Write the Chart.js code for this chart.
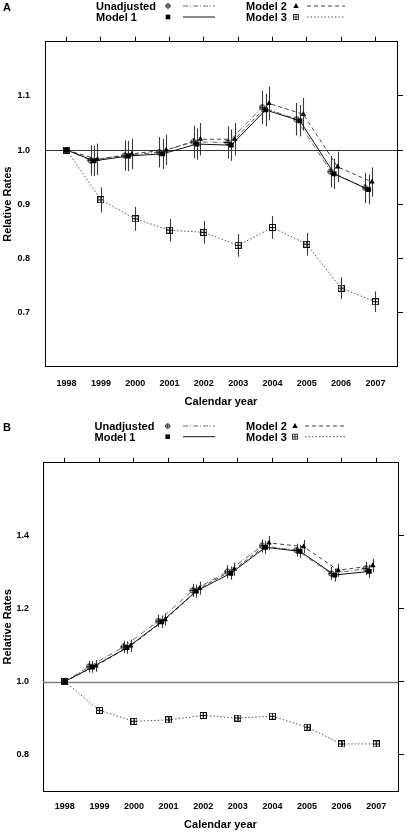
<!DOCTYPE html>
<html>
<head>
<meta charset="utf-8">
<title>Relative Rates by calendar year</title>
<script src="https://cdn.jsdelivr.net/npm/chart.js@4.4.1/dist/chart.umd.min.js"></script>
<style>
  body { margin: 0; background: #fff; font-family: "Liberation Sans", Arial, sans-serif; }
  #page { position: relative; width: 407px; height: 832px; overflow: hidden; background: #fff; }
  .panel { position: absolute; left: 0; width: 407px; }
  svg.legend { position: absolute; left: 0; width: 407px; height: 24px; overflow: visible; }
  svg.legend text { font-family: "Liberation Sans", Arial, sans-serif; font-weight: bold; font-size: 11px; }
</style>
</head>
<body>
<div id="page">
  <div class="panel" style="top:0;height:412px"><canvas id="chartA" width="407" height="412"></canvas></div>
  <div class="panel" style="top:412px;height:420px"><canvas id="chartB" width="407" height="420"></canvas></div>
  <svg class="legend" id="legendA" style="top:0"></svg>
  <svg class="legend" id="legendB" style="top:420px"></svg>
</div>
<script>
// data
const years = [1998, 1999, 2000, 2001, 2002, 2003, 2004, 2005, 2006, 2007];

// panel A
const unadjA  = [1.000, 0.981, 0.990, 0.996, 1.015, 1.014, 1.079, 1.057, 0.960, 0.930];
const model1A = [1.000, 0.980, 0.989, 0.993, 1.011, 1.009, 1.074, 1.054, 0.956, 0.927];
const model2A = [1.000, 0.983, 0.993, 1.000, 1.020, 1.020, 1.086, 1.066, 0.969, 0.941];
const model3A = [1.000, 0.908, 0.873, 0.852, 0.848, 0.824, 0.857, 0.826, 0.745, 0.720];
const ciUnadjA  = [0, 0.028, 0.028, 0.028, 0.030, 0.030, 0.031, 0.030, 0.029, 0.028];
const ciModel1A = [0, 0.028, 0.028, 0.028, 0.029, 0.029, 0.030, 0.029, 0.028, 0.027];
const ciModel2A = [0, 0.029, 0.028, 0.028, 0.030, 0.030, 0.031, 0.030, 0.028, 0.027];
const ciModel3A = [0, 0.023, 0.022, 0.021, 0.021, 0.021, 0.021, 0.021, 0.020, 0.019];
const yTicksA = [0.7, 0.8, 0.9, 1.0, 1.1];

// panel B
const unadjB  = [1.000, 1.041, 1.095, 1.166, 1.250, 1.301, 1.372, 1.360, 1.296, 1.310];
const model1B = [1.000, 1.040, 1.093, 1.164, 1.248, 1.297, 1.368, 1.357, 1.292, 1.302];
const model2B = [1.000, 1.043, 1.098, 1.170, 1.256, 1.308, 1.380, 1.370, 1.305, 1.318];
const model3B = [1.000, 0.921, 0.891, 0.895, 0.907, 0.900, 0.905, 0.875, 0.829, 0.829];
const ciUnadjB  = [0, 0.016, 0.017, 0.017, 0.018, 0.018, 0.018, 0.018, 0.018, 0.018];
const ciModel1B = [0, 0.016, 0.017, 0.017, 0.018, 0.018, 0.018, 0.018, 0.018, 0.018];
const ciModel2B = [0, 0.016, 0.017, 0.017, 0.018, 0.018, 0.019, 0.018, 0.018, 0.018];
const ciModel3B = [0, 0.006, 0.006, 0.006, 0.006, 0.006, 0.006, 0.006, 0.006, 0.006];
const yTicksB = [0.8, 1.0, 1.2, 1.4];

Chart.defaults.font.family = '"Liberation Sans", Arial, sans-serif';
Chart.defaults.font.weight = 'bold';
Chart.defaults.color = '#000';

// small marker images for the symbols chart.js doesn't have
function makeMarker(kind) {
    const c = document.createElement('canvas');
    c.width = 7; c.height = 7;
    const g = c.getContext('2d');
    g.strokeStyle = '#111';
    g.lineWidth = 1;
    if (kind === 'circlePlus') {
        g.beginPath(); g.arc(3.5, 3.5, 2.6, 0, 2 * Math.PI); g.stroke();
    } else {
        g.strokeRect(0.5, 0.5, 6, 6);
    }
    g.beginPath();
    g.moveTo(3.5, 0.5); g.lineTo(3.5, 6.5);
    g.moveTo(0.5, 3.5); g.lineTo(6.5, 3.5);
    g.stroke();
    return c;
}
const circlePlus = makeMarker('circlePlus');
const boxPlus = makeMarker('boxPlus');

// style of each series (shift = dodge along the year axis)
const styles = {
    unadj:  { label: 'Unadjusted', shift: -0.30, color: '#6a6a6a', dash: [5, 2, 1, 2], point: circlePlus, radius: 3, order: 2 },
    model1: { label: 'Model 1',    shift: -0.20, color: '#111',    dash: [],           point: 'rect',     radius: 3.4, order: 0 },
    model2: { label: 'Model 2',    shift: -0.10, color: '#444',    dash: [4, 3],       point: 'triangle', radius: 3.2, order: 1 },
    model3: { label: 'Model 3',    shift: 0,     color: '#555',    dash: [1.5, 2],     point: boxPlus,    radius: 3, order: 3 }
};

function makeDataset(key, values, ci) {
    const s = styles[key];
    return {
        label: s.label,
        data: values.map((v, i) => ({ x: years[i] + (i === 0 ? 0 : s.shift), y: v })),
        err: ci,
        borderColor: s.color,
        borderWidth: 1,
        borderDash: s.dash,
        pointStyle: s.point,
        pointRadius: s.radius,
        pointBackgroundColor: '#000',
        pointBorderColor: '#000',
        pointBorderWidth: 0,
        fill: false,
        tension: 0,
        order: s.order
    };
}

// reference line at 1.0 and the vertical CI bars
const extras = {
    id: 'extras',
    beforeDatasetsDraw(chart, args, opts) {
        const { ctx, chartArea: a, scales: { x, y } } = chart;
        ctx.save();
        const ry = Math.round(y.getPixelForValue(1.0)) + 0.5;
        ctx.strokeStyle = opts.refColor;
        ctx.lineWidth = opts.refWidth;
        ctx.beginPath(); ctx.moveTo(a.left, ry); ctx.lineTo(a.right, ry); ctx.stroke();
        ctx.strokeStyle = '#3a3a3a';
        ctx.lineWidth = 1.1;
        chart.data.datasets.forEach(ds => {
            ds.data.forEach((p, j) => {
                const e = ds.err[j];
                if (!e) return;
                const px = Math.round(x.getPixelForValue(p.x)) + 0.5;
                ctx.beginPath();
                ctx.moveTo(px, y.getPixelForValue(p.y - e));
                ctx.lineTo(px, y.getPixelForValue(p.y + e));
                ctx.stroke();
            });
        });
        ctx.restore();
    }
};

function makePanel(id, datasets, yMin, yMax, yTicks, p) {
    const setYears = s => { s.ticks = years.map(v => ({ value: v })); };
    const setY = s => { s.ticks = yTicks.map(v => ({ value: v })); };
    const border = { display: true, color: '#000', width: 1 };
    new Chart(document.getElementById(id), {
        type: 'line',
        data: { datasets: datasets },
        options: {
            responsive: false,
            animation: false,
            layout: { padding: { top: p.top, right: p.right, bottom: p.bottom, left: 0 } },
            plugins: {
                legend: { display: false },
                tooltip: { enabled: false },
                extras: { refColor: p.refColor, refWidth: p.refWidth }
            },
            scales: {
                x: {
                    type: 'linear', position: 'bottom', min: 1997.37, max: 2007.63,
                    afterBuildTicks: setYears,
                    afterFit: s => { s.height = p.xHeight; },
                    ticks: { callback: v => String(v), font: { size: 9, weight: 'bold' }, padding: p.xPad, maxRotation: 0, autoSkip: false },
                    grid: { display: false, drawTicks: false },
                    border: border,
                    title: { display: true, text: 'Calendar year', font: { size: 11, weight: 'bold' }, padding: 0 }
                },
                xTop: {
                    type: 'linear', position: 'top', min: 1997.37, max: 2007.63,
                    afterBuildTicks: setYears,
                    afterFit: s => { s.height = 5; },
                    ticks: { display: false },
                    grid: { drawOnChartArea: false, drawTicks: true, tickLength: 5, color: '#000' },
                    border: border
                },
                y: {
                    type: 'linear', position: 'left', min: yMin, max: yMax,
                    afterBuildTicks: setY,
                    afterFit: s => { s.width = p.left; },
                    ticks: { callback: v => v.toFixed(1), font: { size: 9, weight: 'bold' }, padding: p.yPad },
                    grid: { display: false, drawTicks: false },
                    border: border,
                    title: { display: true, text: 'Relative Rates', font: { size: 11, weight: 'bold' }, padding: { top: 1, bottom: 0 } }
                },
                yRight: {
                    type: 'linear', position: 'right', min: yMin, max: yMax,
                    afterBuildTicks: setY,
                    afterFit: s => { s.width = 6; },
                    ticks: { display: false },
                    grid: { drawOnChartArea: false, drawTicks: true, tickLength: 6, color: '#000' },
                    border: border
                }
            }
        },
        plugins: [extras]
    });
}

makePanel('chartA', [
    makeDataset('model1', model1A, ciModel1A),
    makeDataset('model2', model2A, ciModel2A),
    makeDataset('unadj', unadjA, ciUnadjA),
    makeDataset('model3', model3A, ciModel3A)
], 0.6, 1.2, yTicksA, { top: 36.7, right: 4, bottom: 3.3, left: 45, xHeight: 42, xPad: 11, yPad: 15, refColor: '#333', refWidth: 1 });

makePanel('chartB', [
    makeDataset('model1', model1B, ciModel1B),
    makeDataset('model2', model2B, ciModel2B),
    makeDataset('unadj', unadjB, ciUnadjB),
    makeDataset('model3', model3B, ciModel3B)
], 0.7, 1.6, yTicksB, { top: 45.7, right: 3, bottom: 0, left: 43, xHeight: 41, xPad: 10, yPad: 14, refColor: '#808080', refWidth: 1.6 });

// legends (panel letter + two columns: text, symbol, line sample)
const NS = 'http://www.w3.org/2000/svg';
function el(parent, tag, attrs, text) {
    const e = document.createElementNS(NS, tag);
    for (const k in attrs) e.setAttribute(k, attrs[k]);
    if (text) e.textContent = text;
    parent.appendChild(e);
    return e;
}
function drawSymbol(g, key, cx, cy) {
    if (key === 'unadj') {
        el(g, 'circle', { cx: cx, cy: cy, r: 2.2, fill: 'none', stroke: '#222', 'stroke-width': 0.9 });
        el(g, 'path', { d: `M${cx - 2.5} ${cy}H${cx + 2.5}M${cx} ${cy - 2.5}V${cy + 2.5}`, stroke: '#222', 'stroke-width': 0.9 });
    } else if (key === 'model1') {
        el(g, 'rect', { x: cx - 2.3, y: cy - 2.3, width: 4.6, height: 4.6, fill: '#000' });
    } else if (key === 'model2') {
        el(g, 'path', { d: `M${cx} ${cy - 3}L${cx + 2.7} ${cy + 2}L${cx - 2.7} ${cy + 2}Z`, fill: '#000' });
    } else {
        el(g, 'rect', { x: cx - 2.5, y: cy - 2.5, width: 5, height: 5, fill: 'none', stroke: '#222', 'stroke-width': 0.9 });
        el(g, 'path', { d: `M${cx - 2.5} ${cy}H${cx + 2.5}M${cx} ${cy - 2.5}V${cy + 2.5}`, stroke: '#222', 'stroke-width': 0.9 });
    }
}
function makeLegend(id, letter, letterY, rows, cols) {
    const svg = document.getElementById(id);
    el(svg, 'text', { x: 3, y: letterY, 'dominant-baseline': 'central', style: 'font-size:11px' }, letter);
    const layout = [['unadj', 0, 0], ['model1', 0, 1], ['model2', 1, 0], ['model3', 1, 1]];
    layout.forEach(([key, c, r]) => {
        const col = cols[c];
        const y = rows[r];
        const s = styles[key];
        el(svg, 'text', { x: col.text, y: y, 'dominant-baseline': 'central' }, s.label);
        drawSymbol(svg, key, col.sym, y);
        el(svg, 'line', { x1: col.l1, x2: col.l2, y1: y, y2: y, stroke: s.color, 'stroke-width': 1, 'stroke-dasharray': s.dash.join(' ') });
    });
}
makeLegend('legendA', 'A', 7, [6, 17], [{ text: 96, sym: 168, l1: 183, l2: 215 }, { text: 246, sym: 296, l1: 307, l2: 345 }]);
makeLegend('legendB', 'B', 7, [6, 16.7], [{ text: 94.5, sym: 167.7, l1: 183, l2: 215 }, { text: 246, sym: 295, l1: 305, l2: 345 }]);
</script>
</body>
</html>
